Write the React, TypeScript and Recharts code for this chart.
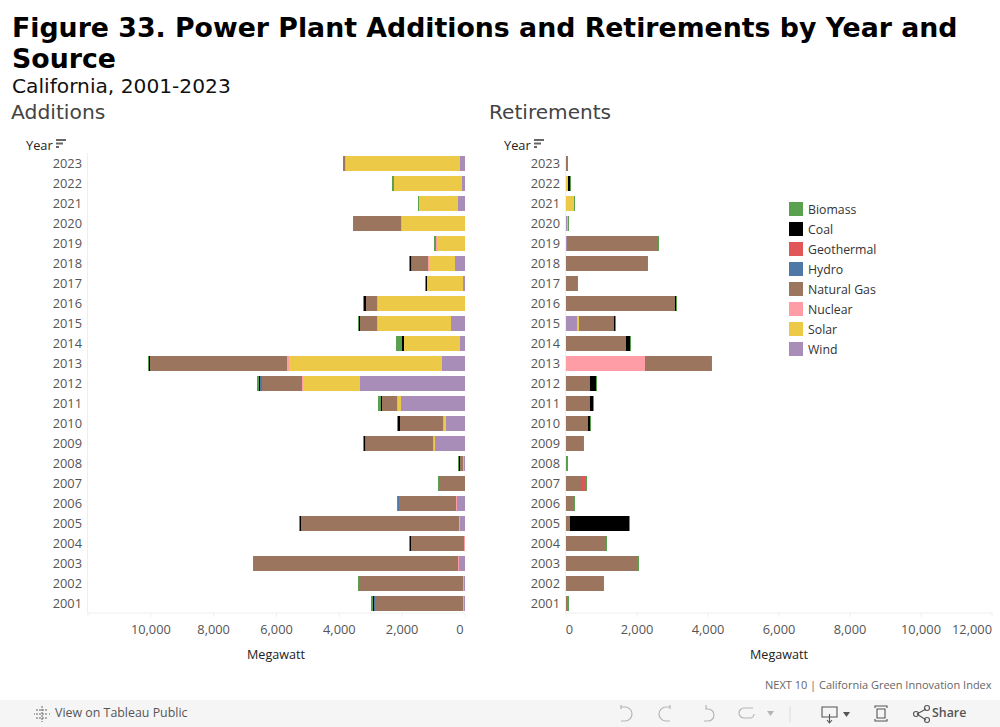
import { BarChart, Bar, XAxis, YAxis } from "recharts";

const years = [2023, 2022, 2021, 2020, 2019, 2018, 2017, 2016, 2015, 2014, 2013, 2012, 2011, 2010, 2009, 2008, 2007, 2006, 2005, 2004, 2003, 2002, 2001];

const sources = ["Biomass", "Coal", "Geothermal", "Hydro", "Natural Gas", "Nuclear", "Solar", "Wind"];
const sourceColors = ["#59A14F", "#000000", "#E15759", "#4E79A7", "#9C755F", "#FF9DA7", "#EDC948", "#A98DB9"];
// bars stack outward from zero in this order
const stackOrder = ["Wind", "Solar", "Nuclear", "Natural Gas", "Hydro", "Geothermal", "Coal", "Biomass"];

const addWind = [160, 95, 222, 0, 0, 317, 63, 0, 444, 159, 730, 3333, 2031, 603, 952, 32, 0, 254, 159, 0, 190, 32, 32];
const addSolar = [3617, 2180, 1238, 2000, 900, 826, 1133, 2772, 2328, 1798, 4888, 1809, 106, 64, 32, 0, 0, 0, 0, 0, 0, 0, 0];
const addNuclear = [42, 0, 0, 31, 31, 31, 0, 21, 21, 0, 32, 32, 21, 31, 32, 31, 0, 32, 31, 32, 32, 31, 31];
const addGas = [40, 0, 0, 1513, 0, 519, 0, 370, 540, 0, 4380, 1290, 476, 1386, 2137, 85, 825, 1809, 5015, 1682, 6486, 3312, 2804];
const addHydro = [0, 0, 0, 0, 0, 21, 0, 0, 0, 0, 0, 64, 0, 0, 21, 0, 0, 32, 0, 0, 0, 0, 32];
const addGeothermal = [0, 0, 0, 0, 0, 0, 0, 0, 0, 0, 0, 0, 0, 0, 0, 0, 0, 0, 0, 0, 0, 0, 0];
const addCoal = [0, 0, 0, 0, 0, 32, 42, 43, 31, 43, 32, 42, 32, 43, 32, 42, 0, 0, 32, 32, 0, 0, 21];
const addBiomass = [30, 42, 32, 21, 53, 31, 32, 31, 32, 190, 31, 64, 95, 31, 31, 32, 32, 31, 32, 31, 31, 21, 64];

const retWind = [0, 0, 0, 28, 28, 0, 0, 0, 310, 0, 0, 0, 0, 0, 0, 0, 0, 0, 0, 0, 0, 0, 0];
const retSolar = [0, 56, 225, 0, 0, 0, 0, 0, 56, 0, 0, 0, 0, 0, 0, 0, 0, 0, 0, 0, 0, 0, 0];
const retNuclear = [0, 0, 0, 19, 0, 0, 0, 0, 0, 0, 2225, 0, 0, 0, 0, 0, 0, 0, 0, 0, 0, 0, 0];
const retGas = [28, 0, 0, 0, 2572, 2290, 320, 3060, 986, 1690, 1867, 675, 675, 620, 488, 0, 441, 225, 113, 1127, 2009, 1052, 28];
const retHydro = [0, 0, 0, 0, 0, 0, 0, 0, 0, 0, 0, 0, 0, 0, 0, 0, 0, 0, 0, 0, 0, 0, 0];
const retGeothermal = [0, 0, 0, 0, 0, 0, 0, 9, 0, 0, 0, 0, 0, 0, 0, 0, 122, 0, 0, 0, 0, 0, 0];
const retCoal = [0, 66, 0, 0, 0, 0, 0, 28, 37, 113, 0, 169, 85, 56, 0, 0, 0, 0, 1661, 0, 0, 0, 0];
const retBiomass = [28, 19, 28, 37, 19, 19, 19, 28, 19, 28, 19, 28, 28, 28, 19, 56, 28, 28, 28, 28, 47, 19, 56];

const addTicks = [0, 2000, 4000, 6000, 8000, 10000, 12000];
const retTicks = [0, 2000, 4000, 6000, 8000, 10000, 12000];

const additions = years.map((year, i) => ({
  year: String(year),
  Wind: addWind[i],
  Solar: addSolar[i],
  Nuclear: addNuclear[i],
  "Natural Gas": addGas[i],
  Hydro: addHydro[i],
  Geothermal: addGeothermal[i],
  Coal: addCoal[i],
  Biomass: addBiomass[i],
}));

const retirements = years.map((year, i) => ({
  year: String(year),
  Wind: retWind[i],
  Solar: retSolar[i],
  Nuclear: retNuclear[i],
  "Natural Gas": retGas[i],
  Hydro: retHydro[i],
  Geothermal: retGeothermal[i],
  Coal: retCoal[i],
  Biomass: retBiomass[i],
}));

const labelFont = "'Open Sans', sans-serif";
const headFont = "'DejaVu Sans', sans-serif";
const axisColor = "#efefef";

const colorOf = (name: string) => sourceColors[sources.indexOf(name)];

// Tableau nudges the outermost tick labels back inside the pane
const XTick = ({ x, y, payload, shift }: any) => {
  const dx = shift[payload.value] ?? 0;
  if (payload.value === 12000 && shift[12000] === undefined) return null;
  return (
    <text x={x + dx} y={y + 15} textAnchor="middle" fontFamily={labelFont} fontSize={12.8} fill="#555">
      {payload.value.toLocaleString("en-US")}
    </text>
  );
};

const YearTick = ({ x, y, payload }: any) => (
  <text x={x} y={y + 4.5} textAnchor="end" fontFamily={labelFont} fontSize={12.8} fill="#555">
    {payload.value}
  </text>
);

const Panel = ({ data, reversed, ticks, shift, left, width, axisWidth, marginRight }: any) => (
  <div style={{ position: "absolute", left, top: 0 }}>
    <BarChart
      width={width}
      height={660}
      data={data}
      layout="vertical"
      barCategoryGap={0}
      margin={{ top: 153, right: marginRight, bottom: 7, left: 0 }}
    >
      <XAxis
        type="number"
        domain={[0, 12000]}
        reversed={reversed}
        ticks={ticks}
        interval={0}
        height={40}
        stroke={axisColor}
        tickSize={4}
        tick={<XTick shift={shift} />}
      />
      <YAxis
        type="category"
        dataKey="year"
        width={axisWidth}
        interval={0}
        axisLine={false}
        tickLine={false}
        tickMargin={0}
        tick={<YearTick />}
      />
      {stackOrder.map((name) => (
        <Bar
          key={name}
          dataKey={name}
          stackId="a"
          barSize={15}
          fill={colorOf(name)}
          shapeRendering="crispEdges"
          isAnimationActive={false}
        />
      ))}
    </BarChart>
  </div>
);

const SortIcon = ({ left }: { left: number }) => (
  <svg style={{ position: "absolute", left, top: 139 }} width={11} height={11}>
    <rect x={0} y={0} width={10} height={2} fill="#666" />
    <rect x={0} y={3.5} width={7} height={2} fill="#666" />
    <rect x={0} y={7} width={3} height={2} fill="#666" />
  </svg>
);

const Label = ({ x, y, size, color, font, weight, children }: any) => (
  <div
    style={{
      position: "absolute",
      left: x,
      top: y,
      fontFamily: font ?? labelFont,
      fontSize: size,
      color: color ?? "#000",
      fontWeight: weight ?? "normal",
      lineHeight: 1,
      whiteSpace: "nowrap",
    }}
  >
    {children}
  </div>
);

const toolIcon = { fill: "none", stroke: "#b5b5b5", strokeWidth: 1.2 };

const Toolbar = () => (
  <div style={{ position: "absolute", left: 0, top: 700, width: 1000, height: 27, background: "#f5f5f5" }}>
    <svg style={{ position: "absolute", left: 0, top: 0 }} width={1000} height={27}>
      <g stroke="#666" strokeWidth={1} fill="none">
        <path d="M42 6v16M36 10h12M36 14h12M36 18h12M34 14h1M49 14h1" strokeDasharray="2 1" />
      </g>
      <g {...toolIcon}>
        <path d="M621 7h4a7 7 0 0 1 0 14h-4M621 5v4" />
        <path d="M670 7h-4a7 7 0 0 0 0 14h4M670 5v4" />
        <path d="M706 5v4h2a6 6 0 0 1 0 12h-4" />
        <path d="M753 8h-9a5 5 0 0 0 0 10h6a4 4 0 0 0 4-4" />
      </g>
      <path d="M767 11h7l-3.500 5z" fill="#b5b5b5" />
      <path d="M790 6v16" stroke="#ddd" />
      <g fill="none" stroke="#555" strokeWidth={1.1}>
        <path d="M822 7h15v10h-15zM829.500 14v8M827 20l2.500 3 2.500-3" />
        <path d="M875 8v-2h12v2M875 19v2h12v-2M877 9h8v9h-8z" />
        <path d="M917 14l9-5M917 14l9 6" />
        <circle cx={916} cy={14} r={2.5} />
        <circle cx={927} cy={8} r={2.5} />
        <circle cx={927} cy={20} r={2.5} />
      </g>
      <path d="M843 12h7l-3.500 5z" fill="#555" />
    </svg>
    <Label x={55} y={7} size={12.4} color="#555">View on Tableau Public</Label>
    <Label x={932} y={7} size={12.4} color="#555" weight={600}>Share</Label>
  </div>
);

export default function App() {
  return (
    <div style={{ position: "absolute", left: 0, top: 0, width: 1000, height: 727, overflow: "hidden", background: "#fff" }}>
      <div
        style={{
          position: "absolute",
          left: 12,
          top: 12,
          width: 975,
          fontFamily: headFont,
          fontSize: 26.75,
          fontWeight: "bold",
          lineHeight: "31px",
          color: "#000",
        }}
      >
        Figure 33. Power Plant Additions and Retirements by Year and Source
      </div>
      <Label x={12} y={76} size={20.2} font={headFont} color="#111">California, 2001-2023</Label>
      <Label x={11} y={102} size={20.3} font={headFont} color="#444">Additions</Label>
      <Label x={489} y={102} size={20.1} font={headFont} color="#444">Retirements</Label>

      <Label x={26} y={139} size={12.8} color="#222">Year</Label>
      <SortIcon left={56} />
      <Label x={504} y={139} size={12.8} color="#222">Year</Label>
      <SortIcon left={534} />

      {/* faint pane edges, kept behind the bars so short bars stay visible */}
      <div style={{ position: "absolute", left: 87, top: 153, width: 1, height: 460, background: axisColor }} />
      <div style={{ position: "absolute", left: 565, top: 153, width: 1, height: 460, background: axisColor }} />

      <Panel data={additions} reversed ticks={addTicks} shift={{ 0: -5 }} left={0} width={473} axisWidth={88} marginRight={8} />
      <Panel data={retirements} ticks={retTicks} shift={{ 0: 3.5, 12000: -20 }} left={480} width={520} axisWidth={86} marginRight={8} />

      <Label x={247} y={649} size={12.6} color="#222">Megawatt</Label>
      <Label x={750} y={649} size={12.6} color="#222">Megawatt</Label>

      {sources.map((name, i) => (
        <div key={name}>
          <div style={{ position: "absolute", left: 789, top: 202 + i * 20, width: 14, height: 14, background: sourceColors[i] }} />
          <Label x={808} y={204 + i * 20} size={12.3} color="#333">{name}</Label>
        </div>
      ))}

      <Label x={765} y={679} size={11} color="#666">NEXT 10 | California Green Innovation Index</Label>
      <Toolbar />
    </div>
  );
}
